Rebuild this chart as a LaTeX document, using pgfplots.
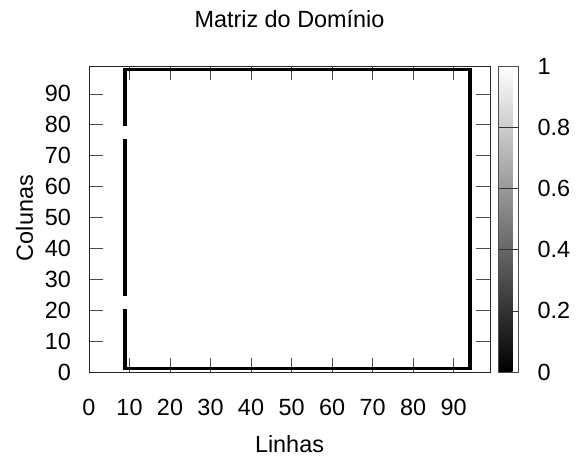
\documentclass[border=0pt]{standalone}
\usepackage{pgfplots}
\pgfplotsset{compat=1.18}
\usepackage{fontspec}
\setmainfont{Liberation Sans}
\newcommand{\chartfont}{\fontsize{23.5}{28}\selectfont}
\begin{document}
\begin{tikzpicture}
\useasboundingbox (0,0) rectangle (588bp,457bp);
\begin{axis}[
  at={(89bp,85bp)}, anchor=south west,
  scale only axis, width=401bp, height=306bp,
  xmin=0, xmax=99, ymin=0, ymax=99,
  xtick={0,10,...,90}, ytick={0,10,...,90},
  tick align=inside, major tick length=14bp,
  axis line style={line width=0.8pt, black!85},
  tick style={line width=0.6pt, black!70},
  font=\chartfont,
  /pgf/number format/assume math mode=true,
  tick label style={font=\chartfont, inner sep=0pt},
  xticklabel style={anchor=north, yshift=-27bp},
  yticklabel style={anchor=east, xshift=-18bp},
  title={Matriz do Domínio},
  title style={at={(axis description cs:0.5,1.107)}, anchor=base, font=\chartfont},
  xlabel={Linhas},
  xlabel style={at={(axis description cs:0.5,-0.262)}, anchor=base, font=\chartfont},
  ylabel={Colunas},
  ylabel style={at={(axis description cs:-0.1397,0.503)}, anchor=base, font=\chartfont},
  colormap={bw}{gray=(0) gray=(1)},
  point meta min=0, point meta max=1,
  colorbar,
  colorbar style={
    at={([xshift=11bp]parent axis.north east)}, anchor=north west,
    width=20bp,
    ytick={0,0.2,...,1},
    yticklabels={0,0.2,0.4,0.6,0.8,1},
    ytick pos=right,
    yticklabel pos=right,
    major tick length=20bp,
    tick align=inside,
    tick style={line width=0.6pt, black!80},
    axis line style={line width=0.6pt, black!70},
    yticklabel style={anchor=west, inner sep=0pt, xshift=19bp, font=\chartfont},
  },
]
% walls (value 0 = black) of the 0/1 domain matrix, drawn as cell blocks
\addplot[fill=black, draw=none] coordinates {(8.5,0.5) (94.5,0.5) (94.5,1.5) (8.5,1.5)} -- cycle;
\addplot[fill=black, draw=none] coordinates {(8.5,97.5) (94.5,97.5) (94.5,98.5) (8.5,98.5)} -- cycle;
\addplot[fill=black, draw=none] coordinates {(93.5,0.5) (94.5,0.5) (94.5,98.5) (93.5,98.5)} -- cycle;
\addplot[fill=black, draw=none] coordinates {(8.5,0.5) (9.5,0.5) (9.5,20.5) (8.5,20.5)} -- cycle;
\addplot[fill=black, draw=none] coordinates {(8.5,24.5) (9.5,24.5) (9.5,75.5) (8.5,75.5)} -- cycle;
\addplot[fill=black, draw=none] coordinates {(8.5,79.5) (9.5,79.5) (9.5,98.5) (8.5,98.5)} -- cycle;
\end{axis}
\end{tikzpicture}
\end{document}
